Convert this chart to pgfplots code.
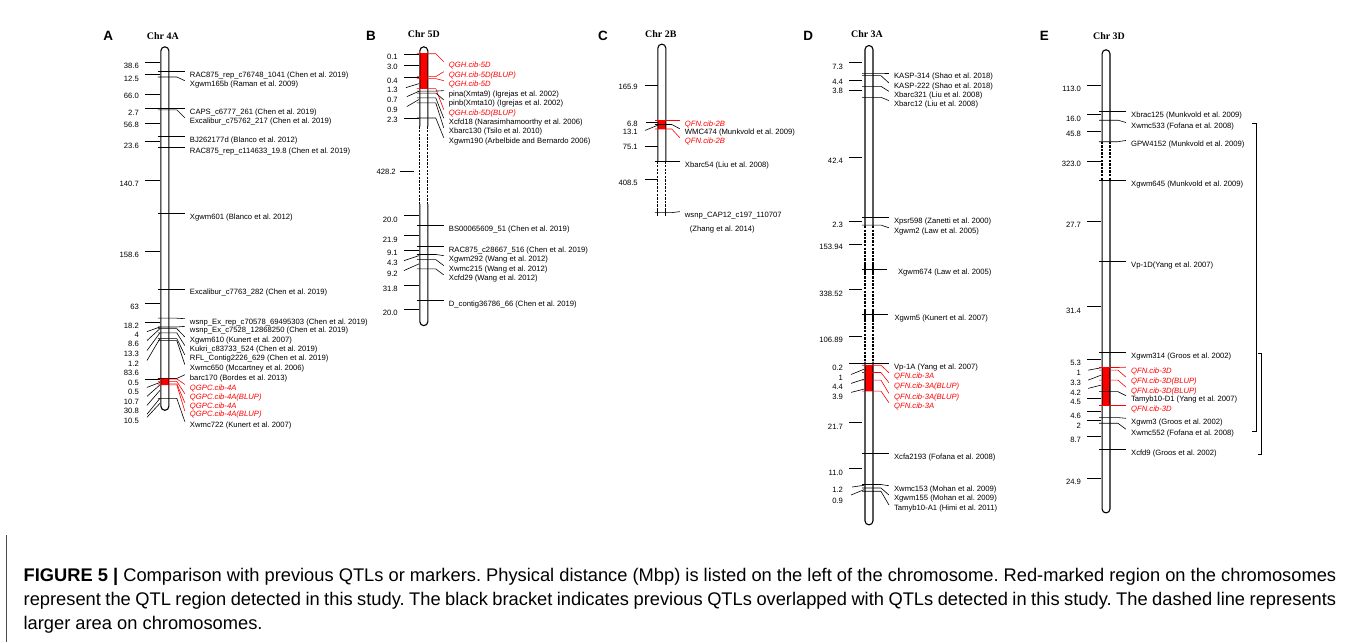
\documentclass[border=0pt]{standalone}
\usepackage{pgfplots}
\pgfplotsset{compat=1.18}
\usepackage{fontspec}
\setmainfont{Liberation Sans}
\newfontfamily\serifchr{Liberation Serif}

\tikzset{
  lbl/.style={anchor=west, inner sep=0pt, xshift=5pt, yshift=-4pt, font=\fontsize{7.7}{8}\selectfont},
  dst/.style={anchor=east, inner sep=0pt, font=\fontsize{7.7}{8}\selectfont},
  chr/.style={black, line width=1.1pt, rounded corners=4pt},
  dsh/.style={black, line width=1.2pt, dash pattern=on 2.4pt off 1.2pt},
  ttl/.style={font=\serifchr\bfseries\fontsize{10}{12}\selectfont, inner sep=0pt},
  pnl/.style={font=\bfseries\fontsize{13.5}{15}\selectfont, inner sep=0pt},
}

% marker: x0 x1 x2 ym yk colour text
\newcommand{\mk}[7]{%
  \addplot[#6, line width=0.6pt] coordinates {(#1,#4) (#2,#4) (#3,#5)};
  \node[lbl, text=#6] at (axis cs:#3,#5) {#7};}
\newcommand{\mA}[4]{\mk{153}{172}{180}{#1}{#2}{#3}{#4}}
\newcommand{\mB}[4]{\mk{413}{432}{440}{#1}{#2}{#3}{#4}}
\newcommand{\mC}[4]{\mk{652}{669}{677}{#1}{#2}{#3}{#4}}
\newcommand{\mD}[4]{\mk{860}{879}{887}{#1}{#2}{#3}{#4}}
\newcommand{\mE}[4]{\mk{1098}{1117}{1125}{#1}{#2}{#3}{#4}}

% distance tick: x0 y0 x1 y1 xlabel ylabel text
\newcommand{\dk}[7]{%
  \addplot[black, line width=0.6pt] coordinates {(#1,#2) (#3,#4)};
  \node[dst] at (axis cs:#5,#6) {#7};}
\newcommand{\dA}[3]{\dk{140}{#1}{155}{#1}{134}{#2}{#3}}
\newcommand{\dAd}[4]{\dk{142}{#1}{155}{#2}{134}{#3}{#4}}
\newcommand{\dB}[3]{\dk{400}{#1}{415}{#1}{394}{#2}{#3}}
\newcommand{\dD}[3]{\dk{847}{#1}{860}{#1}{841}{#2}{#3}}
\newcommand{\dE}[3]{\dk{1086}{#1}{1100}{#1}{1080}{#2}{#3}}

% caption lines, font size chosen so that line 1 fills the width
\newcommand{\capA}{\textbf{FIGURE 5 |} Comparison with previous QTLs or markers. Physical distance (Mbp) is listed on the left of the chromosome. Red-marked region on the chromosomes}
\newcommand{\capB}{represent the QTL region detected in this study. The black bracket indicates previous QTLs overlapped with QTLs detected in this study. The dashed line represents}
\newlength{\capw}
\frenchspacing

\begin{document}
\settowidth{\capw}{\fontsize{10}{12}\selectfont\capA}
\pgfmathsetmacro{\capfs}{10*1318/\capw}
\begin{tikzpicture}
\begin{axis}[
  width=1355pt, height=645pt, scale only axis,
  xmin=0, xmax=1355, ymin=0, ymax=645, y dir=reverse,
  hide axis, clip=false, no markers
]
% full frame, keeps the page at the reference size
\addplot[draw=none] coordinates {(0,0) (1355,0) (1355,645) (0,645)} -- cycle;
% ---------- panel titles
\node[pnl] at (axis cs:103,36) {A};
\node[ttl] at (axis cs:158,36) {Chr 4A};
\node[pnl] at (axis cs:367,36) {B};
\node[ttl] at (axis cs:420,34) {Chr 5D};
\node[pnl] at (axis cs:600,36) {C};
\node[ttl] at (axis cs:658,34) {Chr 2B};
\node[pnl] at (axis cs:806,36) {D};
\node[ttl] at (axis cs:865,34) {Chr 3A};
\node[pnl] at (axis cs:1043,36) {E};
\node[ttl] at (axis cs:1108,36) {Chr 3D};

% ---------- red QTL regions
\addplot[fill=red, draw=none] coordinates {(156,380) (164,380) (164,386.5) (156,386.5)} -- cycle;
\addplot[fill=red, draw=none] coordinates {(416,53.3) (424,53.3) (424,89) (416,89)} -- cycle;
\addplot[fill=red, draw=none] coordinates {(655,121) (663,121) (663,130) (655,130)} -- cycle;
\addplot[fill=red, draw=none] coordinates {(863,366) (871,366) (871,392.7) (863,392.7)} -- cycle;
\addplot[fill=red, draw=none] coordinates {(1101,369) (1109,369) (1109,406.7) (1101,406.7)} -- cycle;

% ---------- chromosomes
% 4A
\addplot[chr] coordinates {(156,230) (156,47) (164,47) (164,412) (156,412) (156,230)};
% 5D
\addplot[chr] coordinates {(416,127) (416,47) (424,47) (424,127)};
\addplot[dsh] coordinates {(416,127) (416,205)};
\addplot[dsh] coordinates {(424,127) (424,205)};
\addplot[chr] coordinates {(416,205) (416,327) (424,327) (424,205)};
% 2B
\addplot[chr] coordinates {(655,162) (655,44.3) (663,44.3) (663,162)};
\addplot[dsh] coordinates {(655,162) (655,208)};
\addplot[dsh] coordinates {(663,162) (663,208)};
\addplot[black, line width=1.1pt] coordinates {(655,209) (655,217)};
\addplot[black, line width=1.1pt] coordinates {(663,209) (663,217)};
% 3A
\addplot[chr] coordinates {(863,227) (863,45.7) (871,45.7) (871,227)};
\addplot[dsh] coordinates {(863,227) (863,363)};
\addplot[dsh] coordinates {(871,227) (871,363)};
\addplot[black, line width=1.1pt] coordinates {(863,265) (863,275)};
\addplot[black, line width=1.1pt] coordinates {(871,265) (871,275)};
\addplot[black, line width=1.1pt] coordinates {(863,311) (863,321)};
\addplot[black, line width=1.1pt] coordinates {(871,311) (871,321)};
\addplot[chr] coordinates {(863,363) (863,527) (871,527) (871,363)};
% 3D
\addplot[chr] coordinates {(1101,142.3) (1101,50) (1109,50) (1109,142.3)};
\addplot[dsh] coordinates {(1101,142.3) (1101,181)};
\addplot[dsh] coordinates {(1109,142.3) (1109,181)};
\addplot[chr] coordinates {(1101,181) (1101,515) (1109,515) (1109,181)};

% ---------- distances (Mbp), left side
% A
\dA{62.3}{66.5}{38.6}
\dA{75}{79}{12.5}
\dA{95}{96.5}{66.0}
\dA{109}{113}{2.7}
\dA{123.3}{125.5}{56.8}
\dA{142.3}{146.5}{23.6}
\dA{181}{184.5}{140.7}
\dA{252.7}{255.7}{158.6}
\dA{304.7}{308.3}{63}
\dA{323.7}{327.3}{18.2}
\dAd{333}{328.3}{336.7}{4}
\dAd{342}{330}{345.7}{8.6}
\dAd{352}{334.3}{355.7}{13.3}
\dAd{362}{340}{365}{1.2}
\dk{140}{380.5}{155}{380.5}{134}{374.3}{83.6}
\dAd{389}{384}{384}{0.5}
\dAd{398}{386.5}{393}{0.5}
\dAd{407}{392}{403}{10.7}
\dAd{416}{400}{412.7}{30.8}
\dAd{419}{405}{422.7}{10.5}
% B
\dB{54.3}{56.7}{0.1}
\dB{65.7}{66.7}{3.0}
\dB{77.7}{81}{0.4}
\dk{402}{88}{415}{84}{394}{90.7}{1.3}
\dk{403}{97}{415}{91.7}{394}{100}{0.7}
\dk{403}{107}{415}{100}{394}{110}{0.9}
\dB{119}{120}{2.3}
\dk{396}{172.3}{410}{172.3}{392}{172.3}{428.2}
\dB{216}{220.7}{20.0}
\dB{236.7}{240.7}{21.9}
\dB{251.7}{254}{9.1}
\dk{400}{261.7}{415}{256.7}{394}{264}{4.3}
\dk{400}{271.7}{415}{265}{394}{275}{9.2}
\dB{286.7}{290}{31.8}
\dB{310.7}{314}{20.0}
% C
\dk{642}{86}{655}{86}{635}{87.7}{165.9}
\dk{643}{122.3}{655}{122.3}{635}{124.3}{6.8}
\dk{642}{131}{655}{125.7}{635}{132.3}{13.1}
\dk{642}{146.7}{655}{146.7}{635}{147.7}{75.1}
\dk{642}{180}{655}{180}{635}{183.3}{408.5}
% D
\dD{62.7}{66.7}{7.3}
\dD{80.7}{82.3}{4.4}
\dD{91}{91}{3.8}
\dD{157.7}{161.7}{42.4}
\dD{221.7}{226}{2.3}
\dD{245.7}{248.3}{153.94}
\dD{290}{295}{338.52}
\dD{337.7}{341.7}{106.89}
\dk{847}{365}{863}{365}{841}{369}{0.2}
\dk{849}{376}{862}{370.7}{841}{379}{1}
\dk{849}{385}{862}{380.7}{841}{388.3}{4.4}
\dk{849}{394}{862}{390.7}{841}{398.3}{3.9}
\dD{424.3}{429}{21.7}
\dD{470}{475}{11.0}
\dk{850}{489}{862}{487.3}{841}{491.7}{1.2}
\dk{849}{497}{862}{491.7}{841}{502.7}{0.9}
% E
\dE{85.7}{89.3}{113.0}
\dE{115}{119}{16.0}
\dE{131.7}{134.3}{45.8}
\dE{161.7}{165}{323.0}
\dE{222}{226}{27.7}
\dE{307.7}{311.7}{31.4}
\dE{361}{364}{5.3}
\dk{1087}{371.7}{1100}{369.3}{1080}{374.3}{1}
\dk{1087}{381.7}{1100}{376.7}{1080}{384}{3.3}
\dk{1087}{390}{1100}{386.7}{1080}{394}{4.2}
\dE{400}{403.3}{4.5}
\dE{413.3}{417.3}{4.6}
\dE{422.3}{427.3}{2}
\dE{438.3}{441.7}{8.7}
\dE{480}{484}{24.9}

% ---------- markers, right side
% A
\mA{72}{72}{black}{RAC875\_rep\_c76748\_1041 (Chen et al. 2019)}
\mA{77.3}{81}{black}{Xgwm165b (Raman et al. 2009)}
\mA{108.5}{108.5}{black}{CAPS\_c6777\_261 (Chen et al. 2019)}
\mA{110.3}{118.3}{black}{Excalibur\_c75762\_217 (Chen et al. 2019)}
\mA{137}{137}{black}{BJ262177d (Blanco et al. 2012)}
\mA{148}{148}{black}{RAC875\_rep\_c114633\_19.8 (Chen et al. 2019)}
\mA{214}{214}{black}{Xgwm601 (Blanco et al. 2012)}
\mA{290}{290}{black}{Excalibur\_c7763\_282 (Chen et al. 2019)}
\mA{319.5}{320}{black}{wsnp\_Ex\_rep\_c70578\_69495303 (Chen et al. 2019)}
\mA{328.3}{327.7}{black}{wsnp\_Ex\_c7528\_12868250 (Chen et al. 2019)}
\mA{330}{338.3}{black}{Xgwm610 (Kunert et al. 2007)}
\mA{334.3}{347}{black}{Kukri\_c83733\_524 (Chen et al. 2019)}
\mA{340}{356.3}{black}{RFL\_Contig2226\_629 (Chen et al. 2019)}
\mA{342}{366}{black}{Xwmc650 (Mccartney et al. 2006)}
\mA{380}{376.3}{black}{barc170 (Bordes et al. 2013)}
\mA{380.5}{386}{red}{\itshape QGPC.cib-4A}
\mA{383}{395.3}{red}{\itshape QGPC.cib-4A(BLUP)}
\mA{385.5}{404.3}{red}{\itshape QGPC.cib-4A}
\mA{386.5}{412.7}{red}{\itshape QGPC.cib-4A(BLUP)}
\mA{400}{423.3}{black}{Xwmc722 (Kunert et al. 2007)}
% B
\mB{54}{62}{red}{\itshape QGH.cib-5D}
\mB{77}{72}{red}{\itshape QGH.cib-5D(BLUP)}
\mB{79}{81}{red}{\itshape QGH.cib-5D}
\mB{89}{110}{red}{\itshape QGH.cib-5D(BLUP)}
\mB{91.5}{91}{black}{pina(Xmta9) (Igrejas et al. 2002)}
\mB{93.5}{100.3}{black}{pinb(Xmta10) (Igrejas et al. 2002)}
\mB{98.3}{118.7}{black}{Xcfd18 (Narasimhamoorthy et al. 2006)}
\mB{103.3}{128.3}{black}{Xbarc130 (Tsilo et al. 2010)}
\mB{118.5}{138.3}{black}{Xgwm190 (Arbelbide and Bernardo 2006)}
\mB{226.7}{226.7}{black}{BS00065609\_51 (Chen et al. 2019)}
\mB{247.3}{247.3}{black}{RAC875\_c28667\_516 (Chen et al. 2019)}
\mB{255.5}{256.7}{black}{Xgwm292 (Wang et al. 2012)}
\mB{260.7}{266.7}{black}{Xwmc215 (Wang et al. 2012)}
\mB{270}{276}{black}{Xcfd29 (Wang et al. 2012)}
\mB{301.7}{301.7}{black}{D\_contig36786\_66 (Chen et al. 2019)}
% C
\mC{121}{121}{red}{\itshape QFN.cib-2B}
\mC{125}{129.3}{black}{WMC474 (Munkvold et al. 2009)}
\mC{129.5}{138.3}{red}{\itshape QFN.cib-2B}
\mC{161.7}{161.7}{black}{Xbarc54 (Liu et al. 2008)}
\mC{213.5}{212.5}{black}{wsnp\_CAP12\_c197\_110707}
\node[lbl, yshift=0pt, xshift=0pt] at (axis cs:682,226) {(Zhang et al. 2014)};
% D
\mD{73.3}{73.3}{black}{KASP-314 (Shao et al. 2018)}
\mD{76}{83.3}{black}{KASP-222 (Shao et al. 2018)}
\mD{86.7}{91.7}{black}{Xbarc321 (Liu et al. 2008)}
\mD{97.7}{101}{black}{Xbarc12 (Liu et al. 2008)}
\mD{218.3}{218.3}{black}{Xpsr598 (Zanetti et al. 2000)}
\mD{226}{228.7}{black}{Xgwm2 (Law et al. 2005)}
\addplot[black, line width=0.6pt] coordinates {(860,270) (885,270)};
\node[lbl, yshift=0pt, xshift=0pt] at (axis cs:891,270) {Xgwm674 (Law et al. 2005)};
\addplot[black, line width=0.6pt] coordinates {(860,316) (886,316)};
\node[lbl, yshift=0pt, xshift=0pt] at (axis cs:887.5,316) {Xgwm5 (Kunert et al. 2007)};
\mD{365}{365}{black}{Vp-1A (Yang et al. 2007)}
\mD{366.7}{374.3}{red}{\itshape QFN.cib-3A}
\mD{374}{384.3}{red}{\itshape QFN.cib-3A(BLUP)}
\mD{381.7}{395}{red}{\itshape QFN.cib-3A(BLUP)}
\mD{392.7}{404.3}{red}{\itshape QFN.cib-3A}
\mD{455}{455}{black}{Xcfa2193 (Fofana et al. 2008)}
\mD{486.5}{487.7}{black}{Xwmc153 (Mohan et al. 2009)}
\mD{490}{497}{black}{Xgwm155 (Mohan et al. 2009)}
\mD{493.3}{507}{black}{Tamyb10-A1 (Himi et al. 2011)}
% E
\mE{111.7}{111.7}{black}{Xbrac125 (Munkvold et al. 2009)}
\mE{120.7}{123}{black}{Xwmc533 (Fofana et al. 2008)}
\mE{142.3}{141}{black}{GPW4152 (Munkvold et al. 2009)}
\mE{181}{181}{black}{Xgwm645 (Munkvold et al. 2009)}
\mE{262.3}{262.3}{black}{Vp-1D(Yang et al. 2007)}
\mE{354}{354}{black}{Xgwm314 (Groos et al. 2002)}
\mE{369}{368.7}{red}{\itshape QFN.cib-3D}
\mE{371.7}{378.7}{red}{\itshape QFN.cib-3D(BLUP)}
\mE{381.7}{388.7}{red}{\itshape QFN.cib-3D(BLUP)}
\mE{393.3}{397.3}{black}{Tamyb10-D1 (Yang et al. 2007)}
\mE{406.7}{406.7}{red}{\itshape QFN.cib-3D}
\mE{419.3}{420}{black}{Xgwm3 (Groos et al. 2002)}
\mE{425}{431}{black}{Xwmc552 (Fofana et al. 2008)}
\mE{451}{451}{black}{Xcfd9 (Groos et al. 2002)}
% brackets (previous QTLs overlapping)
\addplot[black, line width=0.8pt] coordinates {(1251.7,124.3) (1256,124.3) (1256,433.3) (1251.7,433.3)};
\addplot[black, line width=0.8pt] coordinates {(1257.7,355) (1261,355) (1261,456) (1257.7,456)};

% ---------- caption
\addplot[black!70, line width=0.6pt] coordinates {(1,537) (1,645)};
\node[anchor=base west, inner sep=0pt, font=\fontsize{\capfs}{19}\selectfont] at (axis cs:18,583.5)
  {\makebox[1318pt][s]{\capA}};
\node[anchor=base west, inner sep=0pt, font=\fontsize{\capfs}{19}\selectfont] at (axis cs:18,608)
  {\makebox[1318pt][s]{\capB}};
\node[anchor=base west, inner sep=0pt, font=\fontsize{\capfs}{19}\selectfont] at (axis cs:18,632.5)
  {larger area on chromosomes.};
\end{axis}
\end{tikzpicture}
\end{document}
